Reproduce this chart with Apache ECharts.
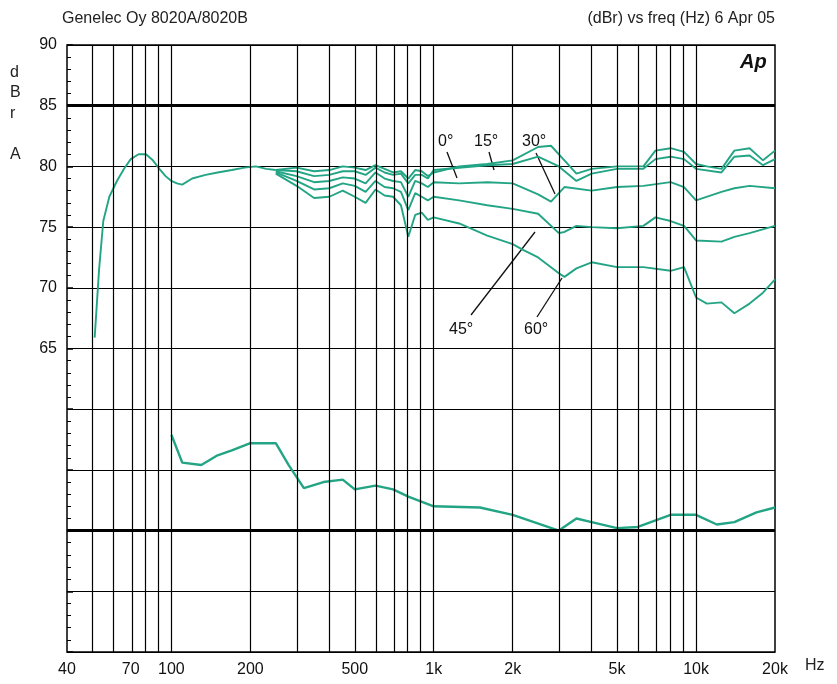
<!DOCTYPE html>
<html><head><meta charset="utf-8">
<script src="https://cdn.jsdelivr.net/npm/echarts@6/dist/echarts.min.js"></script>
<style>html,body{margin:0;background:#fff}#c{width:837px;height:684px}</style>
</head><body><div id="c"></div>
<script>
// low-frequency common response (all angles together)
const lowFreq = [51, 53, 55, 58, 62, 66, 70, 75, 80, 85, 90, 95, 100, 105, 110, 120, 135, 150, 170, 190, 210, 230, 250];
const lowVals = [65.9, 71.5, 75.5, 77.5, 78.8, 79.8, 80.6, 81.0, 81.0, 80.5, 79.8, 79.2, 78.8, 78.6, 78.5, 79.0, 79.3, 79.5, 79.7, 79.9, 80.0, 79.8, 79.7];

const midFreq = [250, 300, 350, 400, 450, 500, 550, 600, 650, 700, 750, 800, 850, 900, 950, 1000];
const mid0 = [79.7, 79.9, 79.6, 79.7, 80.0, 79.9, 79.7, 80.1, 79.8, 79.5, 79.6, 79.0, 79.7, 79.6, 79.2, 79.5];
const mid15 = [79.7, 79.6, 79.2, 79.3, 79.6, 79.6, 79.3, 79.9, 79.5, 79.3, 79.4, 78.6, 79.3, 79.3, 79.0, 79.7];
const mid30 = [79.6, 79.2, 78.7, 78.8, 79.1, 79.0, 78.6, 79.5, 79.0, 78.8, 78.7, 77.5, 78.8, 78.6, 78.3, 78.7];
const mid45 = [79.5, 78.8, 78.1, 78.2, 78.6, 78.4, 77.9, 78.8, 78.3, 78.2, 77.9, 76.4, 77.8, 77.5, 77.2, 77.5];
const mid60 = [79.4, 78.4, 77.4, 77.5, 78.0, 77.5, 77.0, 78.1, 77.6, 77.5, 76.8, 74.2, 76.0, 76.2, 75.6, 75.8];

const hiFreq0 = [1000, 1250, 1600, 2000, 2500, 2800, 3150, 3500, 4000, 5000, 6300, 7000, 8000, 9000, 10000, 11000, 12500, 14000, 16000, 18000, 20000];
const hi0 = [79.5, 80, 80.2, 80.5, 81.6, 81.7, 80.5, 79.4, 79.8, 80, 80, 81.3, 81.5, 81.2, 80.2, 80, 79.8, 81.3, 81.5, 80.5, 81.3];
const hiFreq15 = [1000, 1600, 2000, 2500, 3000, 3500, 4000, 5000, 6300, 7000, 8000, 9000, 10000, 12500, 14000, 16000, 18000, 20000];
const hi15 = [79.7, 80.1, 80.2, 80.8, 80, 78.8, 79.4, 79.8, 79.8, 80.6, 80.8, 80.6, 79.8, 79.5, 80.8, 80.9, 80.1, 80.6];
const hiFreq30 = [1000, 1250, 1600, 2000, 2500, 2800, 3150, 4000, 5000, 6300, 8000, 9000, 10000, 12500, 14000, 16000, 20000];
const hi30 = [78.7, 78.6, 78.7, 78.6, 77.7, 77.1, 78.3, 78, 78.3, 78.4, 78.7, 78.3, 77.2, 77.9, 78.2, 78.4, 78.2];
const hiFreq45 = [1000, 1250, 1600, 2000, 2500, 3000, 3150, 3500, 4000, 5000, 6300, 7000, 8000, 9000, 10000, 12500, 14000, 16000, 20000];
const hi45 = [77.5, 77.2, 76.8, 76.5, 76.1, 74.5, 74.6, 75.1, 75, 74.9, 75.1, 75.8, 75.5, 75.1, 73.9, 73.8, 74.2, 74.5, 75.1];
const hiFreq60 = [1000, 1250, 1600, 2000, 2200, 2500, 3000, 3150, 3500, 4000, 5000, 6300, 8000, 9000, 10000, 11000, 12500, 14000, 16000, 18000, 20000];
const hi60 = [75.8, 75.3, 74.3, 73.6, 73.1, 72.5, 71.2, 70.9, 71.6, 72.1, 71.7, 71.7, 71.4, 71.7, 69.2, 68.7, 68.8, 67.9, 68.7, 69.6, 70.7];

// lower curve
const distFreq = [100, 110, 130, 150, 170, 200, 250, 280, 320, 380, 450, 500, 600, 700, 800, 1000, 1500, 2000, 3000, 3500, 4000, 5000, 6000, 8000, 10000, 12000, 14000, 17000, 20000];
const distVals = [57.9, 55.6, 55.4, 56.2, 56.6, 57.2, 57.2, 55.4, 53.5, 54.0, 54.2, 53.4, 53.7, 53.4, 52.8, 52.0, 51.9, 51.3, 50.0, 51.0, 50.7, 50.2, 50.3, 51.3, 51.3, 50.5, 50.7, 51.5, 51.9];

const gridFreqs = [50, 60, 70, 80, 90, 100, 200, 300, 400, 500, 600, 700, 800, 900, 1000, 2000, 3000, 4000, 5000, 6000, 7000, 8000, 9000, 10000];
const tickFreqs = [40, 70, 100, 200, 500, 1000, 2000, 5000, 10000, 20000];
const tickNames = ['40', '70', '100', '200', '500', '1k', '2k', '5k', '10k', '20k'];
const yLabels = [65, 70, 75, 80, 85, 90];

const lg = Math.log10;
const teal = '#23a585';
function pts(f, v) { return f.map((x, i) => [lg(x), v[i]]); }
function line(data, extra) {
  return Object.assign({ type: 'line', data, symbol: 'none', smooth: false,
    lineStyle: { color: teal, width: 1.9 }, silent: true }, extra || {});
}

const chart = echarts.init(document.getElementById('c'));
const font = 'Liberation Sans, Arial, sans-serif';
chart.setOption({
  animation: false,
  grid: { left: 67, right: 62, top: 45, bottom: 32, show: true, borderColor: '#000', borderWidth: 1.5 },
  xAxis: {
    type: 'value', min: lg(40), max: lg(20000),
    axisLine: { show: false }, axisTick: { show: false }, splitLine: { show: false },
    axisLabel: { customValues: tickFreqs.map(lg), color: '#111', fontSize: 16, fontFamily: font, margin: 10,
      formatter: v => tickNames[tickFreqs.findIndex(f => Math.abs(lg(f) - v) < 1e-6)] }
  },
  yAxis: {
    type: 'value', min: 40, max: 90, interval: 5,
    axisLine: { show: false },
    axisTick: { show: true, inside: true, length: 6, lineStyle: { color: '#000', width: 1.5 } },
    minorTick: { show: true, splitNumber: 5, length: 4, lineStyle: { color: '#000' } },
    splitLine: { lineStyle: { color: '#000', width: 1.2 } },
    axisLabel: { color: '#111', fontSize: 16, fontFamily: font, margin: 10,
      formatter: v => yLabels.includes(v) ? String(v) : '' }
  },
  series: [
    line(pts(lowFreq, lowVals), {
      markLine: { silent: true, symbol: 'none', label: { show: false },
        data: gridFreqs.map(f => ({ xAxis: lg(f), lineStyle: { color: '#000', width: 1.2, type: 'solid' } }))
          .concat([85, 50].map(v => ({ yAxis: v, lineStyle: { color: '#000', width: 3, type: 'solid' } })))
      }
    }),
    line(pts(midFreq, mid0).concat(pts(hiFreq0, hi0).slice(1))),
    line(pts(midFreq, mid15).concat(pts(hiFreq15, hi15).slice(1))),
    line(pts(midFreq, mid30).concat(pts(hiFreq30, hi30).slice(1))),
    line(pts(midFreq, mid45).concat(pts(hiFreq45, hi45).slice(1))),
    line(pts(midFreq, mid60).concat(pts(hiFreq60, hi60).slice(1))),
    line(pts(distFreq, distVals), { lineStyle: { color: teal, width: 2.4 } })
  ],
  graphic: [
    { type: 'text', left: 62, top: 11, style: { text: 'Genelec Oy 8020A/8020B', font: '16px ' + font, fill: '#222' } },
    { type: 'text', right: 62, top: 11, style: { text: '(dBr) vs freq (Hz) 6 Apr 05', font: '16px ' + font, fill: '#222' } },
    { type: 'text', left: 10, top: 62, style: { text: 'd\nB\nr\n\nA', font: '16px ' + font, fill: '#222', lineHeight: 20.5 } },
    { type: 'text', left: 805, top: 658, style: { text: 'Hz', font: '16px ' + font, fill: '#222' } },
    { type: 'text', left: 740, top: 52, style: { text: 'Ap', font: 'italic bold 20px ' + font, fill: '#111' } },
    { type: 'text', left: 438, top: 134, style: { text: '0°', font: '16px ' + font, fill: '#111' } },
    { type: 'text', left: 474, top: 134, style: { text: '15°', font: '16px ' + font, fill: '#111' } },
    { type: 'text', left: 522, top: 134, style: { text: '30°', font: '16px ' + font, fill: '#111' } },
    { type: 'text', left: 449, top: 322, style: { text: '45°', font: '16px ' + font, fill: '#111' } },
    { type: 'text', left: 524, top: 322, style: { text: '60°', font: '16px ' + font, fill: '#111' } },
    { type: 'line', shape: { x1: 447, y1: 152, x2: 457, y2: 178 }, style: { stroke: '#111', lineWidth: 1.3 } },
    { type: 'line', shape: { x1: 489, y1: 152, x2: 494, y2: 170 }, style: { stroke: '#111', lineWidth: 1.3 } },
    { type: 'line', shape: { x1: 536, y1: 153, x2: 555, y2: 194 }, style: { stroke: '#111', lineWidth: 1.3 } },
    { type: 'line', shape: { x1: 471, y1: 315, x2: 535, y2: 232 }, style: { stroke: '#111', lineWidth: 1.3 } },
    { type: 'line', shape: { x1: 537, y1: 317, x2: 562, y2: 278 }, style: { stroke: '#111', lineWidth: 1.3 } }
  ]
});
</script></body></html>
